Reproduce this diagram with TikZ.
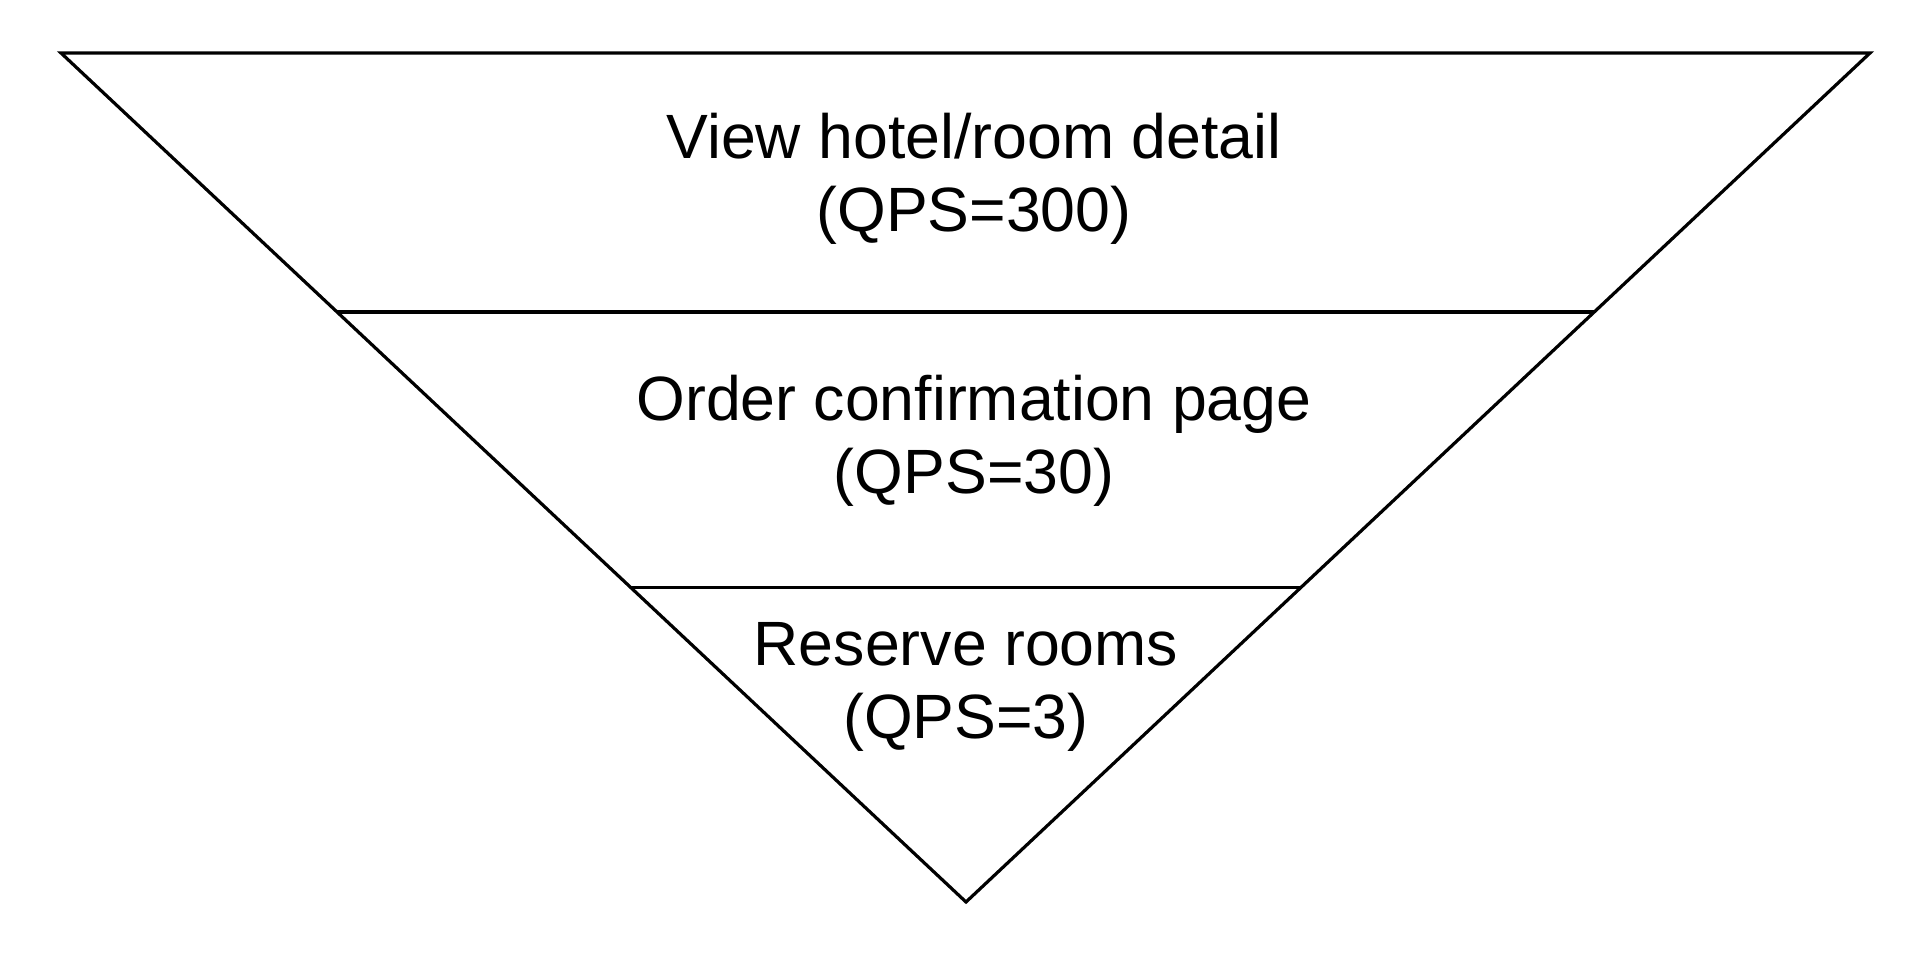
\documentclass[tikz,border=0pt]{standalone}
\usepackage{fontspec}
\setmainfont{Liberation Sans}
\usetikzlibrary{calc}
\tikzset{
  funnel/.style={draw=black, line width=3.2pt, line join=miter},
  divider/.style={draw=black, line width=3.2pt},
  label/.style={align=center, inner sep=0pt, anchor=base, font=\fontsize{62.6}{73}\selectfont}
}
\begin{document}
\begin{tikzpicture}[x=1pt, y=-1pt]
\useasboundingbox (0,0) rectangle (1920,953);
\coordinate (tl) at (61,53);
\coordinate (tr) at (1870,53);
\coordinate (bot) at (966,902);
\draw[funnel] (tl) -- (tr) -- (bot) -- cycle;
\coordinate (l1a) at ($(tl)!0.3051!(bot)$);
\coordinate (l1b) at ($(tr)!0.3051!(bot)$);
\coordinate (l2a) at ($(tl)!0.630!(bot)$);
\coordinate (l2b) at ($(tr)!0.630!(bot)$);
\draw[divider] (l1a) -- (l1b);
\draw[divider] (l2a) -- (l2b);
\node[label] (view) at (974,231) {View hotel/room detail\\(QPS=300)};
\node[label] (order) at (974,493) {Order confirmation page\\(QPS=30)};
\node[label] (reserve) at (966,738) {Reserve rooms\\(QPS=3)};
\end{tikzpicture}
\end{document}
